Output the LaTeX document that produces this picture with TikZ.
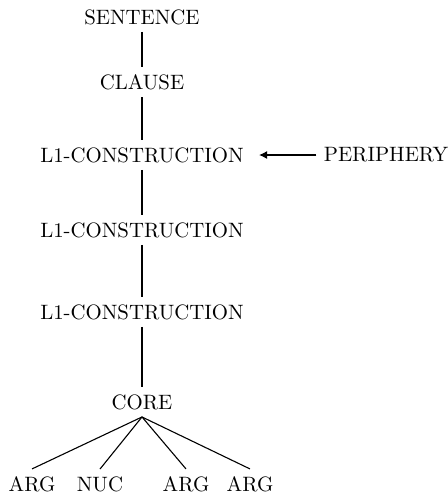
\documentclass[tikz,border=0pt]{standalone}
\usetikzlibrary{arrows.meta}

\tikzset{
    cat/.style={inner sep=3.5pt, font=\fontsize{10.4}{12}\selectfont},
    link/.style={line width=0.55pt}
}

\begin{document}
\begin{tikzpicture}[x=0.5pt, y=-0.5pt]
        \useasboundingbox (0,0) rectangle (448,494);

        \node[cat] (S) at (142,17) {SENTENCE};
        \node[cat] (C) at (142,82) {CLAUSE};
        \node[cat] (L1) at (142,155) {L1-CONSTRUCTION};
        \node[cat] (P) at (386,155) {PERIPHERY};
        \node[cat] (L2) at (142,230) {L1-CONSTRUCTION};
        \node[cat] (L3) at (142,312) {L1-CONSTRUCTION};
        \node[cat] (K) at (142,402) {CORE};

        \node[cat] (A1) at (32,484) {ARG};
        \node[cat] (N) at (100,484) {NUC};
        \node[cat] (A2) at (186,484) {ARG};
        \node[cat] (A3) at (250,484) {ARG};

        \draw[link] (S) -- (C);
        \draw[link] (C) -- (L1);
        \draw[link] (L1) -- (L2);
        \draw[link] (L2) -- (L3);
        \draw[link] (L3) -- (K);
        \draw[link, -{Latex[length=4pt,width=4pt]}, shorten >=4pt] (P) -- (L1);

        \draw[link] (K.south) -- (A1.north);
        \draw[link] (K.south) -- (N.north);
        \draw[link] (K.south) -- (A2.north);
        \draw[link] (K.south) -- (A3.north);
    \end{tikzpicture}
\end{document}
